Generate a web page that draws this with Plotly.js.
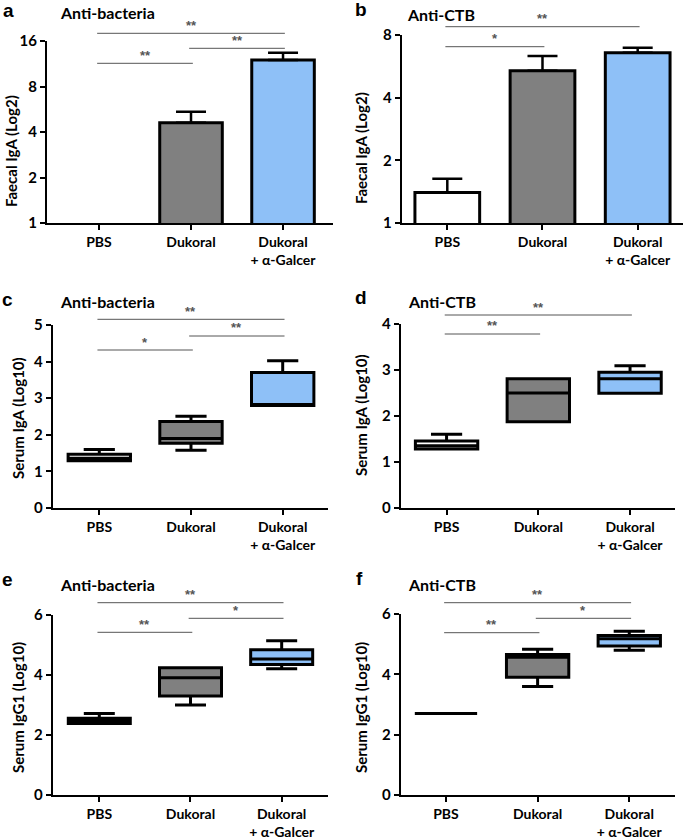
<!DOCTYPE html>
<html><head><meta charset="utf-8">
<script src="https://cdn.plot.ly/plotly-3.0.1.min.js"></script>
<style>html,body{margin:0;padding:0;background:#fff}</style>
</head><body><div id="chart" style="width:685px;height:839px"></div>
<script>
// ---------- data ----------
const groups = ["PBS", "Dukoral", "Dukoral + α-Galcer"];
const groupLabels = ["PBS", "Dukoral", "Dukoral<br>+ α-Galcer"];
const groupColors = ["#ffffff", "#808080", "#8ec0f7"];

const panelLetters = ["a", "b", "c", "d", "e", "f"];
const panelTitles = ["Anti-bacteria", "Anti-CTB", "Anti-bacteria", "Anti-CTB", "Anti-bacteria", "Anti-CTB"];
const yTitles = ["Faecal IgA (Log2)", "Faecal IgA (Log2)", "Serum IgA (Log10)", "Serum IgA (Log10)", "Serum IgG1 (Log10)", "Serum IgG1 (Log10)"];

// a: faecal IgA anti-bacteria (mean and top of error bar)
const faecalBactMean = [1, 4.61, 12.0];
const faecalBactUpper = [1, 5.45, 13.4];
// b: faecal IgA anti-CTB
const faecalCtbMean = [1.40, 5.39, 6.57];
const faecalCtbUpper = [1.63, 6.34, 6.95];
const log2Ticks = [1, 2, 4, 8, 16];

// c: serum IgA anti-bacteria (box statistics)
const igaBactMin = [1.29, 1.58, 2.80];
const igaBactQ1 = [1.29, 1.77, 2.80];
const igaBactMed = [1.36, 1.90, 2.80];
const igaBactQ3 = [1.47, 2.36, 3.70];
const igaBactMax = [1.60, 2.51, 4.02];
// d: serum IgA anti-CTB
const igaCtbMin = [1.28, 1.87, 2.49];
const igaCtbQ1 = [1.28, 1.87, 2.49];
const igaCtbMed = [1.35, 2.50, 2.81];
const igaCtbQ3 = [1.45, 2.81, 2.95];
const igaCtbMax = [1.60, 2.81, 3.09];
// e: serum IgG1 anti-bacteria
const iggBactMin = [2.38, 3.00, 4.21];
const iggBactQ1 = [2.38, 3.30, 4.35];
const iggBactMed = [2.48, 3.91, 4.53];
const iggBactQ3 = [2.56, 4.24, 4.84];
const iggBactMax = [2.72, 4.24, 5.14];
// f: serum IgG1 anti-CTB
const iggCtbMin = [2.70, 3.60, 4.80];
const iggCtbQ1 = [2.70, 3.90, 4.94];
const iggCtbMed = [2.70, 4.57, 5.18];
const iggCtbQ3 = [2.70, 4.66, 5.29];
const iggCtbMax = [2.70, 4.83, 5.43];

// significance comparisons: [group index from, group index to, label]
const sigA = [[0, 1, "**"], [1, 2, "**"], [0, 2, "**"]];
const sigB = [[0, 1, "*"], [0, 2, "**"]];
const sigC = [[0, 1, "*"], [1, 2, "**"], [0, 2, "**"]];
const sigD = [[0, 1, "**"], [0, 2, "**"]];
const sigE = [[0, 1, "**"], [1, 2, "*"], [0, 2, "**"]];
const sigF = [[0, 1, "**"], [1, 2, "*"], [0, 2, "**"]];

// ---------- layout geometry (pixels) ----------
const W = 685, H = 839;
const geo = [
  {l: 47, r: 333, t: 41, b: 223, xr: [-0.565, 2.543], yr: [0, Math.log10(16)], log: true,
   sigY: [63.3, 48.3, 33.3], letter: [1, 11], title: [58, 13], ytitle: [11, 151]},
  {l: 401.7, r: 683, t: 35, b: 223, xr: [-0.479, 2.476], yr: [0, Math.log10(8)], log: true,
   sigY: [46.7, 26.7], letter: [353, 10], title: [405, 15], ytitle: [361, 148]},
  {l: 52.7, r: 328, t: 325, b: 508, xr: [-0.508, 2.494], yr: [0, 5], dt: 1,
   sigY: [350, 336, 319.3], letter: [0, 299], title: [58, 301], ytitle: [18, 418]},
  {l: 400.7, r: 675, t: 324, b: 507.7, xr: [-0.50, 2.49], yr: [0, 4], dt: 1,
   sigY: [334, 315], letter: [353, 297.5], title: [405.7, 302], ytitle: [361, 415]},
  {l: 52.7, r: 328, t: 615, b: 795, xr: [-0.511, 2.508], yr: [0, 6], dt: 2,
   sigY: [632.3, 618.3, 602.7], letter: [0, 579], title: [58, 584], ytitle: [18, 708]},
  {l: 400.7, r: 675, t: 614, b: 795, xr: [-0.494, 2.499], yr: [0, 6], dt: 2,
   sigY: [632.7, 618.3, 602.7], letter: [354, 578], title: [405.7, 584], ytitle: [361, 707]}
];
const sigs = [sigA, sigB, sigC, sigD, sigE, sigF];

const px = x => x / W;
const py = y => 1 - y / H;
const FONT = "Lato, 'Open Sans', sans-serif";

const traces = [];
const layout = {
  width: W, height: H, autosize: false,
  margin: {l: 0, r: 0, t: 0, b: 0},
  paper_bgcolor: "#ffffff", plot_bgcolor: "rgba(0,0,0,0)",
  showlegend: false, boxmode: "overlay", barmode: "overlay",
  font: {family: FONT, color: "#000", size: 14, weight: 700},
  shapes: [], annotations: []
};

function suffix(i) { return i === 0 ? "" : String(i + 1); }

// bar panels (values at the axis floor = not detected: no outline, no error bar)
function addBars(i, mean, upper, floor) {
  const s = suffix(i);
  traces.push({
    type: "bar", x: groups, y: mean, width: 0.68,
    xaxis: "x" + s, yaxis: "y" + s,
    marker: {color: groupColors,
      line: {color: "#000", width: mean.map(v => (v <= floor ? 0 : 3))}},
    error_y: {type: "data", symmetric: false,
      array: upper.map((u, k) => (mean[k] <= floor ? NaN : u - mean[k])),
      arrayminus: mean.map(v => (v <= floor ? NaN : 0)),
      color: "#000", thickness: 2.5, width: 15},
    hoverinfo: "skip"
  });
}
addBars(0, faecalBactMean, faecalBactUpper, log2Ticks[0]);
addBars(1, faecalCtbMean, faecalCtbUpper, log2Ticks[0]);

// box panels
function addBoxes(i, mn, q1, med, q3, mx) {
  const s = suffix(i);
  groups.forEach((g, k) => {
    traces.push({
      type: "box", x: [g], q1: [q1[k]], median: [med[k]], q3: [q3[k]],
      lowerfence: [mn[k]], upperfence: [mx[k]],
      xaxis: "x" + s, yaxis: "y" + s, width: 0.68, whiskerwidth: 0.5,
      fillcolor: groupColors[k], line: {color: "#000", width: 3},
      boxpoints: false, hoverinfo: "skip"
    });
  });
}
addBoxes(2, igaBactMin, igaBactQ1, igaBactMed, igaBactQ3, igaBactMax);
addBoxes(3, igaCtbMin, igaCtbQ1, igaCtbMed, igaCtbQ3, igaCtbMax);
addBoxes(4, iggBactMin, iggBactQ1, iggBactMed, iggBactQ3, iggBactMax);
addBoxes(5, iggCtbMin, iggCtbQ1, iggCtbMed, iggCtbQ3, iggCtbMax);

geo.forEach((g, i) => {
  const s = suffix(i);
  layout["xaxis" + s] = {
    domain: [px(g.l), px(g.r)], anchor: "y" + s, type: "category",
    categoryorder: "array", categoryarray: groups,
    range: g.xr, tickvals: groups, ticktext: groupLabels,
    showline: true, linecolor: "#000", linewidth: 2,
    ticks: "outside", ticklen: 5, tickwidth: 2, tickcolor: "#000",
    showgrid: false, zeroline: false, fixedrange: true,
    tickfont: {family: FONT, size: 14, color: "#000", weight: 700}
  };
  const ya = {
    domain: [py(g.b), py(g.t)], anchor: "x" + s,
    range: g.yr, showline: true, linecolor: "#000", linewidth: 2,
    ticks: "outside", ticklen: 5, tickwidth: 2, tickcolor: "#000",
    showgrid: false, zeroline: false, fixedrange: true,
    tickfont: {family: FONT, size: 15, color: "#000", weight: 700}
  };
  if (g.log) { ya.type = "log"; ya.tickvals = log2Ticks; ya.ticktext = log2Ticks.map(String); }
  else { ya.type = "linear"; ya.dtick = g.dt; ya.tick0 = 0; }
  layout["yaxis" + s] = ya;

  // significance brackets
  sigs[i].forEach((c, k) => {
    const y = g.sigY[k];
    layout.shapes.push({type: "line", xref: "x" + s, yref: "paper",
      x0: c[0] - 0.02, x1: c[1] + 0.02, y0: py(y), y1: py(y),
      line: {color: "#555", width: 1}});
    layout.annotations.push({xref: "x" + s, yref: "paper",
      x: (c[0] + c[1]) / 2, y: py(y - 8), yanchor: "middle", xanchor: "center",
      text: c[2], showarrow: false,
      font: {family: "Liberation Sans, Arial, sans-serif", size: 13, color: "#555"}});
  });

  // panel letter, title, y title
  layout.annotations.push({xref: "paper", yref: "paper", x: px(g.letter[0]), y: py(g.letter[1]),
    xanchor: "left", yanchor: "middle", text: panelLetters[i], showarrow: false,
    font: {family: "Liberation Sans, Arial, sans-serif", size: 19, color: "#000", weight: 700}});
  layout.annotations.push({xref: "paper", yref: "paper", x: px(g.title[0]), y: py(g.title[1]),
    xanchor: "left", yanchor: "middle", text: panelTitles[i], showarrow: false,
    font: {family: FONT, size: 16, color: "#000", weight: 700}});
  layout.annotations.push({xref: "paper", yref: "paper", x: px(g.ytitle[0]), y: py(g.ytitle[1]),
    xanchor: "center", yanchor: "middle", textangle: -90, text: yTitles[i], showarrow: false,
    font: {family: FONT, size: 15, color: "#000", weight: 700}});
});

Plotly.newPlot("chart", traces, layout, {staticPlot: true, displayModeBar: false});
</script>
</body></html>
